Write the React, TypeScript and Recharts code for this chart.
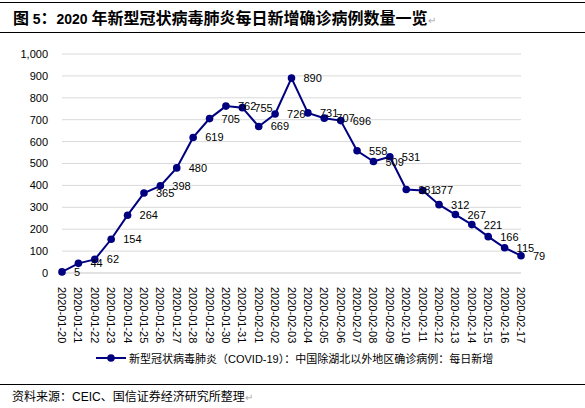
import React from 'react';
import { LineChart, Line, XAxis, YAxis, CartesianGrid, LabelList, Legend } from 'recharts';

const dates = [
  '2020-01-20', '2020-01-21', '2020-01-22', '2020-01-23', '2020-01-24', '2020-01-25',
  '2020-01-26', '2020-01-27', '2020-01-28', '2020-01-29', '2020-01-30', '2020-01-31',
  '2020-02-01', '2020-02-02', '2020-02-03', '2020-02-04', '2020-02-05', '2020-02-06',
  '2020-02-07', '2020-02-08', '2020-02-09', '2020-02-10', '2020-02-11', '2020-02-12',
  '2020-02-13', '2020-02-14', '2020-02-15', '2020-02-16', '2020-02-17',
];
const values = [
  5, 44, 62, 154, 264, 365, 398, 480, 619, 705, 762, 755, 669, 726, 890,
  731, 707, 696, 558, 509, 531, 381, 377, 312, 267, 221, 166, 115, 79,
];
const yTicks = [0, 100, 200, 300, 400, 500, 600, 700, 800, 900, 1000];
const seriesName = '新型冠状病毒肺炎（COVID-19）：中国除湖北以外地区确诊病例：每日新增';
const titleParts = ['图 ', '5', '：', '2020 ', '年新型冠状病毒肺炎每日新增确诊病例数量一览'];
const sourceText = '资料来源：CEIC、国信证券经济研究所整理';

const data = dates.map((d, i) => ({ date: d, value: values[i] }));

const LATIN = '"Liberation Sans", Arial, sans-serif';
const CJK = '"Noto Sans CJK SC", "Liberation Sans", sans-serif';
const MIXED = '"Liberation Sans", "Noto Sans CJK SC", sans-serif';
const NAVY = '#000080';

const XTick = (props: any) => {
  const { x, y, payload } = props;
  return (
    <text
      transform={`translate(${x},${y + 6}) rotate(90)`}
      textAnchor="start"
      dominantBaseline="central"
      fontSize={11}
      fontFamily={LATIN}
      fill="#000"
    >
      {payload.value}
    </text>
  );
};

const ValueLabel = (props: any) => {
  const { x, y, value } = props;
  return (
    <text
      x={x + 12}
      y={y}
      dominantBaseline="central"
      textAnchor="start"
      fontSize={11}
      fontFamily={LATIN}
      fill="#000"
    >
      {value}
    </text>
  );
};

const LegendContent = () => (
  <div style={{ display: 'flex', alignItems: 'center', height: 16, paddingLeft: 96 }}>
    <svg width={31} height={16} style={{ display: 'block' }}>
      <line x1={0} y1={8} x2={30} y2={8} stroke={NAVY} strokeWidth={2} />
      <circle cx={15} cy={8} r={3.8} fill={NAVY} />
    </svg>
    <span style={{ fontFamily: MIXED, fontSize: 11, color: '#000', marginLeft: 2, whiteSpace: 'nowrap' }}>
      {seriesName}
    </span>
  </div>
);

export default function App() {
  return (
    <div style={{ position: 'absolute', left: 0, top: 0, width: 585, height: 408, background: '#fff', overflow: 'hidden' }}>
      <div style={{ position: 'absolute', left: 0, top: 2, width: 585, height: 1, background: '#000' }} />
      <div
        style={{
          position: 'absolute', left: 13, top: 5, height: 24, lineHeight: '24px',
          fontWeight: 'bold', fontSize: 16, fontFamily: CJK, color: '#000', whiteSpace: 'nowrap',
        }}
      >
        <span>{titleParts[0]}</span>
        <span style={{ fontFamily: LATIN, fontSize: 14 }}>{titleParts[1]}</span>
        <span>{titleParts[2]}</span>
        <span style={{ fontFamily: LATIN, fontSize: 14 }}>{titleParts[3]}</span>
        <span>{titleParts[4]}</span>
        <span style={{ color: '#aaa', fontWeight: 'normal', fontSize: 10 }}>↵</span>
      </div>
      <div style={{ position: 'absolute', left: 0, top: 32, width: 585, height: 1, background: '#000' }} />

      <div style={{ position: 'absolute', left: 0, top: 0 }}>
        <LineChart
          width={585}
          height={408}
          data={data}
          margin={{ top: 54, right: 64, left: 12, bottom: 42 }}
        >
          <CartesianGrid horizontal vertical={false} stroke="#d9d9d9" />
          <XAxis
            dataKey="date"
            interval={0}
            height={77}
            tickLine={false}
            axisLine={{ stroke: '#d9d9d9' }}
            tick={<XTick />}
          />
          <YAxis
            width={50}
            domain={[0, 1000]}
            ticks={yTicks}
            interval={0}
            axisLine={false}
            tickLine={false}
            tickSize={0}
            tickMargin={14}
            tickFormatter={(v: number) => v.toLocaleString('en-US')}
            tick={{ fontSize: 11, fontFamily: LATIN, fill: '#000' }}
          />
          <Legend verticalAlign="bottom" height={16} content={<LegendContent />} wrapperStyle={{ left: 0, width: 585 }} />
          <Line
            type="linear"
            dataKey="value"
            name={seriesName}
            stroke={NAVY}
            strokeWidth={2}
            dot={{ r: 3.8, fill: NAVY, stroke: NAVY, strokeWidth: 0 }}
            activeDot={false}
            isAnimationActive={false}
          >
            <LabelList dataKey="value" content={<ValueLabel />} />
          </Line>
        </LineChart>
      </div>

      <div style={{ position: 'absolute', left: 0, top: 384, width: 585, height: 1, background: '#000' }} />
      <div
        style={{
          position: 'absolute', left: 12, top: 388, height: 18, lineHeight: '18px',
          fontSize: 12, fontFamily: MIXED, color: '#000', whiteSpace: 'nowrap',
        }}
      >
        {sourceText}
        <span style={{ color: '#aaa', fontSize: 10 }}>↵</span>
      </div>
    </div>
  );
}
